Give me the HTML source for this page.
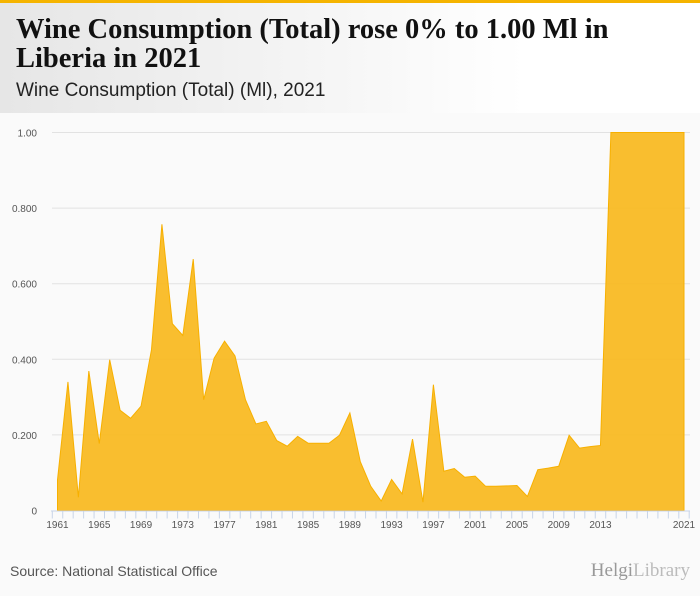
<!DOCTYPE html>
<html><head><meta charset="utf-8"><style>
body{margin:0;width:700px;height:596px;background:#fafafa;font-family:"Liberation Sans",sans-serif;overflow:hidden;position:relative}
#hdr{position:absolute;left:0;top:0;width:700px;height:113px;background:linear-gradient(90deg,#e6e6e6,#fff 75%)}
#bar{position:absolute;left:0;top:0;width:700px;height:3px;background:#f5b400}
#title{position:absolute;left:16px;top:15px;font-family:"Liberation Serif",serif;font-weight:bold;font-size:28.5px;line-height:29px;color:#111;letter-spacing:0px}
#sub{position:absolute;left:16px;top:80px;font-size:19px;color:#222}
#src{position:absolute;left:10px;top:563px;font-size:14px;color:#555}
#logo{position:absolute;right:10px;top:560px;font-family:"Liberation Serif",serif;font-size:19px;color:#999}
</style></head><body>
<div id="hdr"></div>
<div id="bar"></div>
<div id="title">Wine Consumption (Total) rose 0% to 1.00 Ml in<br>Liberia in 2021</div>
<div id="sub">Wine Consumption (Total) (Ml), 2021</div>
<svg id="chart" width="700" height="596" style="position:absolute;left:0;top:0"></svg>
<div id="src">Source: National Statistical Office</div>
<div id="logo">Helgi<span style="font-weight:normal;color:#bbb">Library</span></div>
<script>
const years=[];for(let y=1961;y<=2021;y++)years.push(y);
const values=[0.081,0.340,0.035,0.369,0.177,0.399,0.265,0.244,0.276,0.425,0.757,0.494,0.463,0.665,0.293,0.403,0.448,0.409,0.293,0.229,0.236,0.185,0.170,0.196,0.178,0.178,0.178,0.199,0.258,0.129,0.064,0.025,0.082,0.044,0.189,0.022,0.333,0.104,0.111,0.088,0.091,0.064,0.064,0.065,0.066,0.037,0.108,0.112,0.117,0.199,0.165,0.169,0.172,1.0,1.0,1.0,1.0,1.0,1.0,1.0,1.0];
const yTicks=[0,0.2,0.4,0.6,0.8,1.0];
const yTickLabels=["0","0.200","0.400","0.600","0.800","1.00"];
const xLabelYears=[1961,1965,1969,1973,1977,1981,1985,1989,1993,1997,2001,2005,2009,2013,2021];
const svg=document.getElementById('chart');const NS='http://www.w3.org/2000/svg';
const x0=57.5,x1=684,y0=510.5,y1=132.5;
const X=y=>x0+(y-1961)*(x1-x0)/60;
const Y=v=>y0-v*(y0-y1);
function mk(t,a){const e=document.createElementNS(NS,t);for(const k in a)e.setAttribute(k,a[k]);svg.appendChild(e);return e;}
yTicks.forEach((t,i)=>{
 if(t>0){const g=mk('line',{x1:52,x2:690,y1:Y(t),y2:Y(t),stroke:'#e2e2e2','stroke-width':1});
 
 }
 const l=mk('text',{x:37,y:Y(t)+4,'text-anchor':'end','font-size':'10','fill':'#555','font-family':'Liberation Sans, sans-serif'});
 l.textContent=yTickLabels[i];
 
 
});
let d='M'+X(years[0])+','+Y(0);
years.forEach((y,i)=>{d+=' L'+X(y).toFixed(2)+','+Y(values[i]).toFixed(2);});
d+=' L'+X(years[years.length-1])+','+Y(0)+' Z';
const area=mk('path',{d:d,fill:'#f9b91f','fill-opacity':'0.93',stroke:'#f7b000','stroke-width':1});


const ax=mk('line',{x1:51,x2:690,y1:y0+0.5,y2:y0+0.5,stroke:'#c8d4e8','stroke-width':1});


years.forEach(y=>{const t=mk('line',{x1:X(y)-5.2,x2:X(y)-5.2,y1:y0,y2:y0+8,stroke:'#c8d4e8','stroke-width':1});
 
 });
const tl=mk('line',{x1:X(2021)+5.2,x2:X(2021)+5.2,y1:y0,y2:y0+8,stroke:'#c8d4e8','stroke-width':1});


xLabelYears.forEach(y=>{const l=mk('text',{x:X(y),y:528,'text-anchor':'middle','font-size':'10','fill':'#555','font-family':'Liberation Sans, sans-serif'});
 l.textContent=y;
 
 });
</script>
</body></html>
